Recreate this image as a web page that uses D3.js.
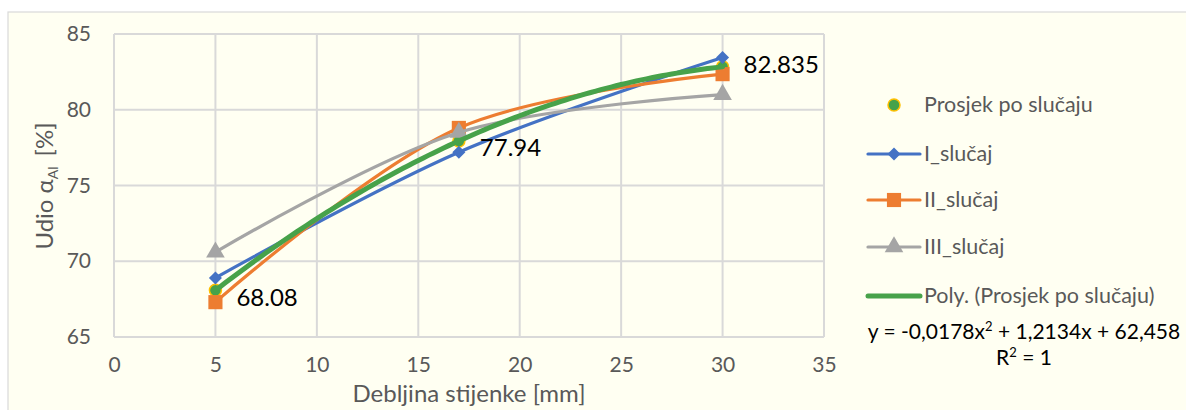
<!DOCTYPE html>
<html><head><meta charset="utf-8">
<script src="https://cdn.jsdelivr.net/npm/d3@7"></script>
<style>
html,body{margin:0;padding:0;background:#fff;}
svg text{font-family:Lato,"Open Sans",sans-serif;}
</style></head>
<body>
<svg id="c" width="1186" height="410"></svg>
<script>
const xs = [5, 17, 30];
const prosjek = [68.08, 77.94, 82.835];
const slucaj1 = [68.9, 77.2, 83.45];
const slucaj2 = [67.3, 78.8, 82.35];
const slucaj3 = [70.6, 78.5, 81.0];
const xTicks = [0, 5, 10, 15, 20, 25, 30, 35];
const yTicks = [65, 70, 75, 80, 85];
const labels = ["68.08", "77.94", "82.835"];
const legendNames = ["Prosjek po slučaju", "I_slučaj", "II_slučaj", "III_slučaj", "Poly. (Prosjek po slučaju)"];

const svg = d3.select("#c");
svg.append("rect").attr("x",8).attr("y",12).attr("width",1186).attr("height",410)
  .attr("fill","#FFFFF2").attr("stroke","#D9D9D9").attr("stroke-width",1.2);

const x = d3.scaleLinear().domain([0,35]).range([114,824]);
const y = d3.scaleLinear().domain([65,85]).range([337,34]);

const g = svg.append("g");
g.selectAll("line.v").data(xTicks).join("line")
  .attr("x1",d=>x(d)).attr("x2",d=>x(d)).attr("y1",y(85)).attr("y2",y(65))
  .attr("stroke","#D9D9D9").attr("stroke-width",2);
g.selectAll("line.h").data(yTicks).join("line")
  .attr("y1",d=>y(d)).attr("y2",d=>y(d)).attr("x1",x(0)).attr("x2",x(35))
  .attr("stroke","#D9D9D9").attr("stroke-width",2);

const xAxis = svg.append("g").attr("transform",`translate(0,${y(65)})`)
  .call(d3.axisBottom(x).tickValues(xTicks).tickSize(0).tickPadding(20));
const yAxis = svg.append("g").attr("transform",`translate(${x(0)},0)`)
  .call(d3.axisLeft(y).tickValues(yTicks).tickSize(0).tickPadding(23));
[xAxis,yAxis].forEach(a=>{
  a.select(".domain").remove();
  a.selectAll("text").attr("fill","#595959").style("font-size","21px").style("font-family","Lato, sans-serif");
});

svg.append("text").attr("x",469).attr("y",402).attr("text-anchor","middle")
  .attr("fill","#595959").style("font-size","24px").text("Debljina stijenke [mm]");
const yt = svg.append("text").attr("transform","translate(53,186) rotate(-90)")
  .attr("text-anchor","middle").attr("fill","#595959").style("font-size","24px");
yt.append("tspan").text("Udio α");
yt.append("tspan").attr("dy",5).style("font-size","14px").text("Al");
yt.append("tspan").attr("dy",-5).attr("dx",10).text("[%]");

const colors = {p:"#47A24A", p1:"#4472C4", p2:"#ED7D31", p3:"#A5A5A5", gold:"#FFC000"};
const line = d3.line().x(d=>x(d[0])).y(d=>y(d[1])).curve(d3.curveCatmullRom.alpha(0.5));

const series = [
  {vals:slucaj1, color:colors.p1, shape:d3.symbolSquare, size:85, rot:45},
  {vals:slucaj2, color:colors.p2, shape:d3.symbolSquare, size:200, rot:0},
  {vals:slucaj3, color:colors.p3, shape:d3.symbolTriangle, size:150, rot:0},
];

svg.selectAll("circle.pm").data(xs).join("circle")
  .attr("cx",d=>x(d)).attr("cy",(d,i)=>y(prosjek[i])).attr("r",6)
  .attr("fill",colors.p).attr("stroke",colors.gold).attr("stroke-width",1.5);

series.forEach(s=>{
  const pts = xs.map((d,i)=>[d,s.vals[i]]);
  svg.append("path").attr("d",line(pts)).attr("fill","none")
    .attr("stroke",s.color).attr("stroke-width",3.2).attr("stroke-linecap","round");
  svg.selectAll(null).data(pts).join("path")
    .attr("transform",d=>`translate(${x(d[0])},${y(d[1])}) rotate(${s.rot})`)
    .attr("d",d3.symbol(s.shape,s.size)).attr("fill",s.color);
});

function quadFit(X,Y){
  const n=X.length; let S=[0,0,0,0,0], T=[0,0,0];
  for(let i=0;i<n;i++){for(let k=0;k<5;k++)S[k]+=Math.pow(X[i],k);for(let k=0;k<3;k++)T[k]+=Y[i]*Math.pow(X[i],k);}
  const A=[[S[0],S[1],S[2],T[0]],[S[1],S[2],S[3],T[1]],[S[2],S[3],S[4],T[2]]];
  for(let i=0;i<3;i++){for(let j=i+1;j<3;j++){const f=A[j][i]/A[i][i];for(let k=i;k<4;k++)A[j][k]-=f*A[i][k];}}
  const c=[0,0,0];
  for(let i=2;i>=0;i--){let s=A[i][3];for(let k=i+1;k<3;k++)s-=A[i][k]*c[k];c[i]=s/A[i][i];}
  return c;
}
const c = quadFit(xs, prosjek);
const tx = d3.range(xs[0], xs[2]+0.001, 0.25);
svg.append("path").attr("d", d3.line().x(d=>x(d)).y(d=>y(c[0]+c[1]*d+c[2]*d*d))(tx))
  .attr("fill","none").attr("stroke",colors.p).attr("stroke-width",5).attr("stroke-linecap","round");

const lblOff = [[21,16],[21,15],[21,6]];
svg.selectAll("text.dl").data(xs).join("text")
  .attr("x",(d,i)=>x(d)+lblOff[i][0]).attr("y",(d,i)=>y(prosjek[i])+lblOff[i][1])
  .attr("fill","#000").style("font-size","24px").text((d,i)=>labels[i]);

const lg = svg.append("g");
const ly = [105,154,200,247,296];
legendNames.forEach((nm,i)=>{
  const yy = ly[i];
  if(i===0){
    lg.append("circle").attr("cx",894).attr("cy",yy).attr("r",6).attr("fill",colors.p)
      .attr("stroke",colors.gold).attr("stroke-width",1.5);
  } else if(i<4){
    const s = series[i-1];
    lg.append("line").attr("x1",868).attr("x2",920).attr("y1",yy).attr("y2",yy)
      .attr("stroke",s.color).attr("stroke-width",3.2).attr("stroke-linecap","round");
    lg.append("path").attr("transform",`translate(894,${yy}) rotate(${s.rot})`).attr("d",d3.symbol(s.shape,s.size)).attr("fill",s.color);
  } else {
    lg.append("line").attr("x1",868).attr("x2",920).attr("y1",yy).attr("y2",yy)
      .attr("stroke",colors.p).attr("stroke-width",5).attr("stroke-linecap","round");
  }
  lg.append("text").attr("x",924).attr("y",yy+7).attr("fill","#595959").style("font-size","21.5px").text(nm);
});
const eq = svg.append("text").attr("x",1024).attr("y",339).attr("text-anchor","middle")
  .attr("fill","#000").style("font-size","21px");
eq.append("tspan").text("y = -0,0178x");
eq.append("tspan").attr("dy",-8).style("font-size","13px").text("2");
eq.append("tspan").attr("dy",8).text(" + 1,2134x + 62,458");
const r2 = svg.append("text").attr("x",1024).attr("y",365).attr("text-anchor","middle")
  .attr("fill","#000").style("font-size","21px");
r2.append("tspan").text("R");
r2.append("tspan").attr("dy",-8).style("font-size","13px").text("2");
r2.append("tspan").attr("dy",8).text(" = 1");
</script>
</body></html>
